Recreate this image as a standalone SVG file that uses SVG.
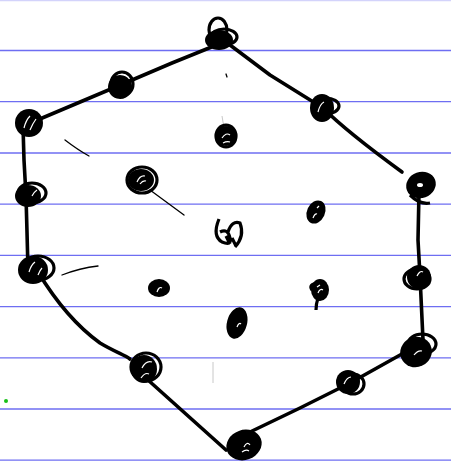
<svg xmlns="http://www.w3.org/2000/svg" width="451" height="468" viewBox="0 0 451 468">
<style>
.rule{stroke:#6e6ef2;stroke-width:1.3}
.edge{fill:none;stroke:#000;stroke-width:3.6;stroke-linecap:round;stroke-linejoin:round}
.thin{fill:none;stroke:#000;stroke-width:1.3;stroke-linecap:round}
.faint{fill:none;stroke:#c8c8c8;stroke-width:1}
.blob{fill:#000}
.loop{fill:none;stroke:#000;stroke-width:3.2}
.hi{fill:none;stroke:#fff;stroke-width:1.2}
</style>
<rect width="451" height="468" fill="#fff"/>
<g id="paper">
<line class="rule" x1="0" y1="0.5" x2="451" y2="0.5" stroke-opacity="0.3"/>
<line class="rule" x1="0" y1="50.5" x2="451" y2="50.5"/>
<line class="rule" x1="0" y1="101.7" x2="451" y2="101.7"/>
<line class="rule" x1="0" y1="153" x2="451" y2="153"/>
<line class="rule" x1="0" y1="204.2" x2="451" y2="204.2"/>
<line class="rule" x1="0" y1="255.4" x2="451" y2="255.4"/>
<line class="rule" x1="0" y1="306.6" x2="451" y2="306.6"/>
<line class="rule" x1="0" y1="357.8" x2="451" y2="357.8"/>
<line class="rule" x1="0" y1="409" x2="451" y2="409"/>
<line class="rule" x1="0" y1="460.2" x2="451" y2="460.2"/>
</g>
<g id="connectors">
<path class="edge" d="M214 46 L172 63 L118 86 L28 124"/>
<path class="edge" d="M23 126 L24 160 L26 196 L27 232 L28 270"/>
<path class="edge" d="M38 272 C55 300 75 325 100 343 C115 352 125 355 130 359"/>
<path class="edge" d="M148 380 L226 450"/>
<path class="edge" d="M250 432 L300 408 L350 383 L418 345"/>
<path class="edge" d="M423 340 L420 276 L418 240 L419 192"/>
<path class="edge" d="M230 45 L270 75 L323 108 C340 125 365 145 402 172"/>
<path class="thin" d="M65 140 Q78 150 89 156"/>
<path class="thin" d="M150 190 L184 215"/>
<path class="thin" d="M62 275 Q80 268 98 266"/>
<path class="faint" d="M222 116 L224 128"/>
<path class="faint" d="M213 362 L213 383"/>
<path class="thin" d="M226 74 L227 77"/>
</g>
<g id="n1"><ellipse class="blob" cx="219" cy="40" rx="14" ry="10"/><ellipse class="loop" cx="218" cy="30" rx="9" ry="12"/><ellipse class="loop" cx="224" cy="37" rx="13" ry="8"/></g>
<g id="n2"><ellipse class="blob" cx="120" cy="87" rx="12" ry="12" transform="rotate(-30 120 87)"/><ellipse class="loop" cx="122" cy="84" rx="11" ry="12"/></g>
<g id="n3"><ellipse class="blob" cx="29" cy="123" rx="14" ry="14"/><path class="hi" d="M24 128 Q26 120 30 116 M30 130 Q33 123 36 119"/></g>
<g id="n4"><ellipse class="blob" cx="28" cy="196" rx="13" ry="11"/><ellipse class="loop" cx="32" cy="193" rx="14" ry="10"/><path class="hi" d="M32 196 Q34 192 37 190"/></g>
<g id="n5"><ellipse class="blob" cx="33" cy="270" rx="15" ry="14"/><ellipse class="loop" cx="38" cy="268" rx="16" ry="12"/><path class="hi" d="M29 272 Q31 265 35 262 M38 275 Q40 270 42 268"/></g>
<g id="n6"><ellipse class="blob" cx="144" cy="369" rx="13" ry="14"/><ellipse class="loop" cx="146" cy="367" rx="15" ry="14"/><path class="hi" d="M142 368 Q146 360 152 362 M141 378 Q145 372 149 374"/></g>
<g id="n7"><ellipse class="blob" cx="244" cy="445" rx="18" ry="15" transform="rotate(-20 244 445)"/><path class="hi" d="M244 447 Q247 441 250 445 M242 452 Q246 449 249 451"/></g>
<g id="n8"><ellipse class="blob" cx="348" cy="382" rx="12" ry="12"/><ellipse class="loop" cx="353" cy="384" rx="11" ry="10"/><path class="hi" d="M344 384 Q347 377 351 377"/></g>
<g id="n9"><ellipse class="blob" cx="416" cy="352" rx="16" ry="15" transform="rotate(-25 416 352)"/><ellipse class="loop" cx="422" cy="344" rx="14" ry="10"/><path class="hi" d="M414 355 Q418 350 422 351"/></g>
<g id="n10"><ellipse class="blob" cx="419" cy="277" rx="12" ry="12"/><ellipse class="loop" cx="417" cy="279" rx="13" ry="10"/><path class="hi" d="M417 276 Q420 270 423 272"/></g>
<g id="n11"><ellipse class="blob" cx="421" cy="185" rx="15" ry="13" transform="rotate(-20 421 185)"/><path class="loop" d="M410 195 Q420 205 430 203"/><ellipse fill="#fff" cx="420" cy="185" rx="3" ry="2"/></g>
<g id="n12"><ellipse class="blob" cx="322" cy="108" rx="12" ry="14"/><ellipse class="loop" cx="326" cy="106" rx="13" ry="8"/><path class="hi" d="M318 112 Q320 104 324 102"/></g>
<g id="n13"><ellipse class="blob" cx="226" cy="136" rx="10" ry="10"/><ellipse class="loop" cx="226" cy="136" rx="10" ry="11"/><path class="hi" d="M222 138 Q226 132 230 135 M223 143 Q227 141 230 142"/></g>
<g id="n14"><ellipse class="blob" cx="141" cy="180" rx="13" ry="11"/><ellipse class="loop" cx="142" cy="180" rx="15" ry="13"/><path class="hi" d="M137 182 Q140 175 145 176 M140 184 Q143 180 146 181"/></g>
<g id="n15"><path class="loop" stroke-width="4" d="M219 219 Q212 236 222 242 Q232 246 230 238 Q228 228 220 232 M228 232 Q232 220 240 223 Q245 236 235 247 M232 238 L236 246 M226 236 L230 244"/></g>
<g id="n16"><ellipse class="blob" cx="316" cy="212" rx="9" ry="12" transform="rotate(25 316 212)"/><path class="hi" d="M313 218 Q315 213 317 214 M317 208 L319 206"/></g>
<g id="n17"><ellipse class="blob" cx="159" cy="288" rx="11" ry="9"/><path class="hi" d="M157 292 Q159 286 162 288"/></g>
<g id="n18"><ellipse class="blob" cx="320" cy="290" rx="9" ry="11"/><path class="loop" d="M312 290 Q308 284 318 283 M318 298 Q316 304 316 310"/><path class="hi" d="M318 293 Q320 288 323 290 M317 287 L320 285"/></g>
<g id="n19"><ellipse class="blob" cx="237" cy="323" rx="10" ry="16" transform="rotate(15 237 323)"/><path class="hi" d="M237 327 Q239 322 241 324"/></g>
<circle cx="6" cy="401" r="2" fill="#18c018"/>
</svg>
